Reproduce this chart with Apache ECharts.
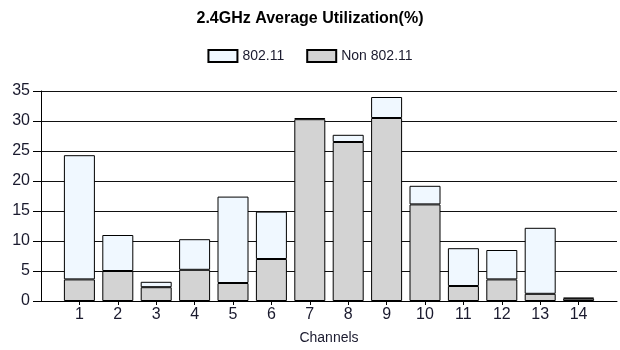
<!DOCTYPE html>
<html>
<head>
<meta charset="utf-8">
<script src="https://cdn.jsdelivr.net/npm/echarts@6/dist/echarts.min.js"></script>
<style>
html,body{margin:0;padding:0;background:#fff;}
#chart{width:620px;height:350px;}
</style>
</head>
<body>
<div id="chart"></div>
<script>
const channels = ['1','2','3','4','5','6','7','8','9','10','11','12','13','14'];
const non80211 = [3.6, 5.0, 2.3, 5.2, 3.0, 7.0, 30.3, 26.5, 30.5, 16.1, 2.5, 3.6, 1.2, 0.4];
const wifi80211 = [20.7, 6.0, 0.9, 5.1, 14.4, 7.9, 0.2, 1.2, 3.5, 3.1, 6.3, 4.9, 11.0, 0.15];
const yTicks = [0, 5, 10, 15, 20, 25, 30, 35];

const FONT = '"Liberation Sans", Arial, sans-serif';
const chart = echarts.init(document.getElementById('chart'), null, {renderer: 'canvas'});

// padded axis: an empty slot at each end (axis runs 0..15, bars at 1..14)
const axisCats = [''].concat(channels, ['']);
const pad = arr => [null].concat(arr, [null]);
const isChannel = idx => idx >= 1 && idx <= channels.length;

chart.setOption({
  animation: false,
  backgroundColor: '#ffffff',
  title: {
    text: '2.4GHz Average Utilization(%)',
    left: 'center',
    top: 11,
    padding: 0,
    textStyle: {fontFamily: FONT, fontSize: 16, fontWeight: 'bold', color: '#000'}
  },
  legend: {
    data: ['802.11', 'Non 802.11'],
    top: 44,
    left: 'center',
    itemWidth: 29,
    itemHeight: 12,
    itemGap: 22,
    icon: 'rect',
    textStyle: {fontFamily: FONT, fontSize: 14, color: '#1a1a2e'}
  },
  grid: {left: 41, top: 91, width: 586, height: 210, containLabel: false},
  xAxis: {
    type: 'category',
    data: axisCats,
    boundaryGap: false,
    name: 'Channels',
    nameLocation: 'middle',
    nameGap: 30,
    nameTextStyle: {fontFamily: FONT, fontSize: 14, color: '#1a1a2e'},
    axisLine: {show: true, lineStyle: {color: '#000', width: 1}},
    axisTick: {show: true, length: 4, interval: isChannel, lineStyle: {color: '#000'}},
    axisLabel: {interval: 0, fontFamily: FONT, fontSize: 16, color: '#1a1a2e', margin: 6},
    splitLine: {show: false}
  },
  yAxis: {
    type: 'value',
    min: yTicks[0],
    max: yTicks[yTicks.length - 1],
    interval: yTicks[1] - yTicks[0],
    axisLine: {show: true, lineStyle: {color: '#000', width: 1}},
    axisTick: {show: true, length: 8, inside: false, lineStyle: {color: '#000'}},
    axisLabel: {fontFamily: FONT, fontSize: 16, color: '#1a1a2e', margin: 11},
    splitLine: {show: true, lineStyle: {color: '#111', width: 1}}
  },
  series: [
    {
      name: 'Non 802.11',
      type: 'bar',
      stack: 'total',
      barWidth: 31,
      data: pad(non80211),
      itemStyle: {color: '#d3d3d3', borderColor: '#000', borderWidth: 1}
    },
    {
      name: '802.11',
      type: 'bar',
      stack: 'total',
      barWidth: 31,
      data: pad(wifi80211),
      itemStyle: {color: '#f0f8ff', borderColor: '#000', borderWidth: 1}
    }
  ]
});
</script>
</body>
</html>
